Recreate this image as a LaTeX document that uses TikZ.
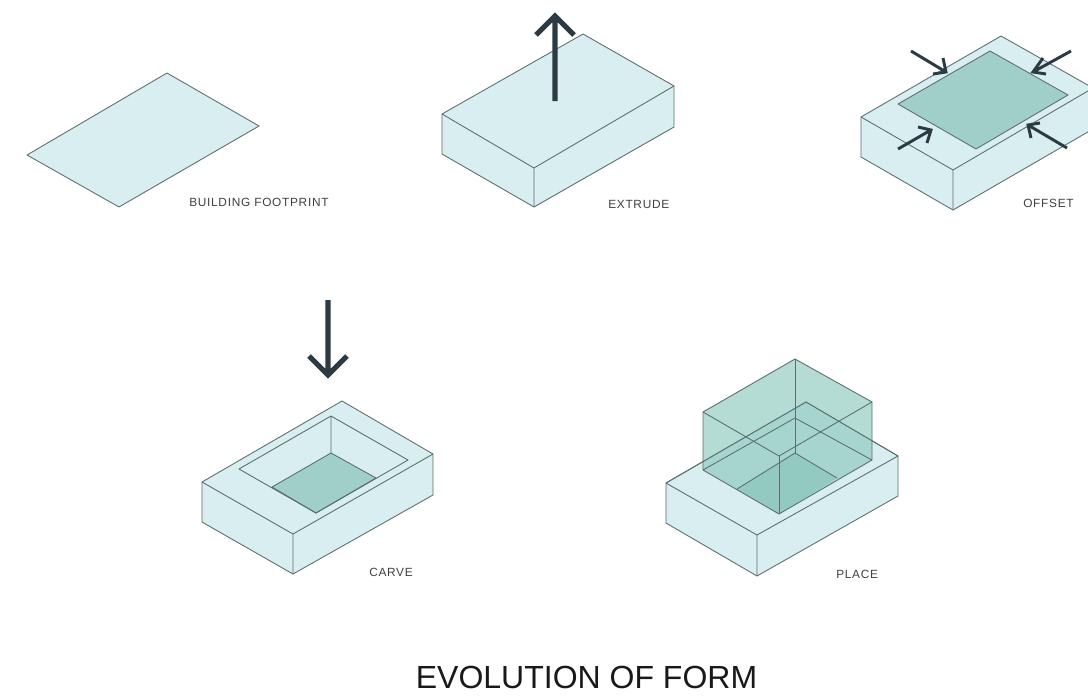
\documentclass[tikz,border=0pt]{standalone}
\usepackage{fontspec}
\setmainfont{Liberation Sans}
\newfontfamily\labfont[LetterSpace=6]{Liberation Sans}
\definecolor{lightblue}{HTML}{D9EEF0}
\definecolor{midteal}{HTML}{A0CEC9}
\definecolor{boxteal}{HTML}{8CC8BE}
\definecolor{edgegrey}{HTML}{5C6E6E}
\definecolor{arrowdark}{HTML}{2C3B43}
\tikzset{
  face/.style={fill=lightblue,draw=edgegrey,line width=0.65pt,line join=round},
  edge/.style={draw=edgegrey,line width=0.65pt,line join=round},
  floorface/.style={fill=midteal,draw=edgegrey,line width=0.65pt,line join=round},
  bigarrow/.style={draw=arrowdark,line width=3.8pt,line join=miter},
  smallarrow/.style={draw=arrowdark,line width=2.2pt,line join=miter},
  lab/.style={font=\fontsize{8.9}{10}\selectfont\labfont,text=black!75,inner sep=0pt,anchor=west},
  glass/.style={fill=boxteal,fill opacity=0.65,draw=none}
}
\begin{document}
\begin{tikzpicture}[x=0.75pt,y=-0.75pt]
\useasboundingbox (0,0) rectangle (1088,696);
\fill[white] (0,0) rectangle (1088,696);
% footprint
\draw[face] (27,155) -- (167,73) -- (259,126) -- (119,207) -- cycle;
\node[lab] (l1) at (189,202) {BUILDING FOOTPRINT};
% extrude
\draw[face] (442,114) -- (583,34) -- (674,86) -- (674,127) -- (534,207) -- (442,154) -- cycle;
\draw[edge] (442,114) -- (534,168) -- (674,86) (534,168) -- (534,207);
\draw[bigarrow] (555,101) -- (555,17) (536,35) -- (555,16) -- (574,35);
\node[lab] (l2) at (608,204) {EXTRUDE};
% offset
\begin{scope}
\clip (0,0) rectangle (1088,696);
\draw[face] (861,117) -- (1001,36) -- (1093,88) -- (1093,129) -- (953,210) -- (861,157) -- cycle;
\draw[edge] (861,117) -- (953,170) -- (1093,88) (953,170) -- (953,210);
\end{scope}
\draw[floorface] (898,104) -- (990,51) -- (1068,95) -- (976,149) -- cycle;
\draw[smallarrow] (911,51) -- (946,72) (943,58) -- (946,72) -- (933,74);
\draw[smallarrow] (1071,51) -- (1033,72) (1043,58) -- (1033,72) -- (1046,74);
\draw[smallarrow] (898,149) -- (931,130) (918,127) -- (931,130) -- (927,143);
\draw[smallarrow] (1067,148) -- (1028,125) (1040,123) -- (1028,125) -- (1031,138);
\node[lab] (l3) at (1023,203) {OFFSET};
% carve
\draw[face] (202,482) -- (342,401) -- (433,454) -- (433,495) -- (293,574) -- (202,522) -- cycle;
\draw[edge] (202,482) -- (293,534) -- (433,454) (293,534) -- (293,574);
\draw[floorface] (272,487) -- (331,453) -- (376,478) -- (316,513) -- cycle;
\draw[edge] (239,469) -- (331,416) -- (408,460) -- (316,513) -- cycle (331,416) -- (331,453);
\draw[bigarrow] (328,300) -- (328,374) (309,356) -- (328,375) -- (347,356);
\node[lab] (l4) at (369,572) {CARVE};
% place
\draw[face] (666,483) -- (806,402) -- (898,456) -- (898,496) -- (757,576) -- (666,523) -- cycle;
\draw[edge] (666,483) -- (757,535) -- (898,456) (757,535) -- (757,576);
\fill[midteal] (737,489) -- (795,453) -- (837,478) -- (779,514) -- cycle;
\fill[glass] (703,412) -- (795,359) -- (872,402) -- (872,460) -- (779,514) -- (703,470) -- cycle;
\draw[edge] (666,483) -- (806,402) -- (898,456);
\draw[edge] (703,412) -- (795,359) -- (872,402) -- (779,456) -- cycle;
\draw[edge] (703,412) -- (703,470) -- (779,514) -- (872,460) -- (872,402);
\draw[edge] (779,456) -- (779,514);
\draw[edge] (795,359) -- (795,453);
\draw[edge] (703,470) -- (795,418) -- (872,460);
\draw[edge] (737,489) -- (795,453) -- (837,478);
\node[lab] (l5) at (836,574) {PLACE};
% title
\node[font=\fontsize{24}{28}\selectfont,text=black!90,inner sep=0pt] (title) at (586.5,677) {EVOLUTION OF FORM};
\end{tikzpicture}
\end{document}
